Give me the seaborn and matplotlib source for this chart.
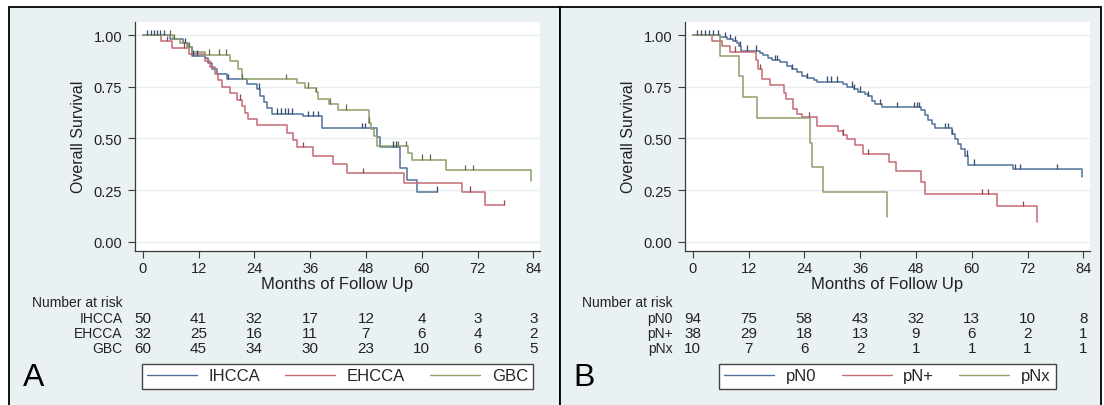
import numpy as np
import pandas as pd
import matplotlib
matplotlib.use("Agg")
import matplotlib.pyplot as plt
import matplotlib.transforms as mtransforms
from matplotlib.lines import Line2D
from matplotlib.patches import Rectangle
import seaborn as sns

# ---- data ----
risk_months = [0, 12, 24, 36, 48, 60, 72, 84]

# panel A
ihcca_t = [0, 5.9, 8.6, 9.8, 10.6, 13.4, 14.1, 14.8, 15.9, 18.1, 22.4, 24.5, 25.2, 26.0,
           26.7, 27.7, 34.5, 38.5, 50.4, 51.0, 55.4, 56.8, 58.9, 63.2]
ihcca_s = [1.0, 0.98, 0.96, 0.94, 0.90, 0.89, 0.865, 0.835, 0.81, 0.787, 0.763, 0.74, 0.706,
           0.674, 0.645, 0.62, 0.607, 0.548, 0.505, 0.46, 0.355, 0.30, 0.242, 0.242]
ihcca_cens = [1.0, 1.7, 2.4, 3.1, 3.8, 4.5, 9.2, 10.9, 11.6, 18.4, 25.0, 28.8, 29.7, 30.6,
              31.3, 32.0, 35.6, 36.6, 37.6, 47.1, 47.8, 53.8, 54.4, 63.2]

ehcca_t = [0, 3.9, 6.2, 10.0, 13.4, 14.5, 15.6, 16.1, 17.0, 18.8, 20.2, 21.3, 22.0, 22.7,
           24.5, 31.0, 32.4, 33.1, 36.7, 41.0, 43.9, 56.1, 68.6, 73.6, 77.6]
ehcca_s = [1.0, 0.969, 0.938, 0.906, 0.875, 0.844, 0.813, 0.781, 0.75, 0.719, 0.688, 0.656,
           0.625, 0.594, 0.5625, 0.527, 0.49, 0.457, 0.416, 0.376, 0.331, 0.284, 0.242, 0.177, 0.177]
ehcca_cens = [5.2, 8.8, 21.0, 34.4, 47.3, 70.4, 77.6]

gbc_t = [0, 6.6, 8.0, 9.5, 10.5, 13.4, 18.8, 20.5, 21.3, 33.1, 35.0, 37.3, 37.8, 40.0, 42.1,
         48.7, 49.2, 49.8, 50.4, 57.1, 58.0, 65.2, 83.5]
gbc_s = [1.0, 0.98, 0.96, 0.94, 0.92, 0.905, 0.875, 0.835, 0.787, 0.77, 0.746, 0.722, 0.69,
         0.668, 0.639, 0.575, 0.543, 0.51, 0.462, 0.43, 0.397, 0.347, 0.295]
gbc_cens = [5.9, 6.8, 9.9, 14.2, 16.5, 18.0, 21.3, 30.8, 35.5, 37.3, 40.2, 43.7, 48.7, 55.0,
            56.6, 60.0, 61.8, 69.2, 71.1]

ihcca_risk = [50, 41, 32, 17, 12, 4, 3, 3]
ehcca_risk = [32, 25, 16, 11, 7, 6, 4, 2]
gbc_risk = [60, 45, 34, 30, 23, 10, 6, 5]

# panel B
pn0_t = [0, 5.9, 7.3, 8.7, 9.5, 10.0, 10.3, 14.5, 15.2, 16.1, 17.0, 18.8, 20.2, 21.3, 22.4,
         23.4, 24.5, 26.0, 26.8, 32.4, 33.1, 34.6, 35.6, 37.1, 37.8, 38.5, 39.2, 40.6, 49.2,
         50.0, 50.7, 51.4, 52.1, 55.7, 56.4, 57.1, 57.8, 58.6, 59.1, 59.3, 68.8, 83.7]
pn0_s = [1.0, 0.99, 0.98, 0.97, 0.96, 0.945, 0.924, 0.913, 0.902, 0.89, 0.879, 0.868, 0.85,
         0.835, 0.82, 0.803, 0.79, 0.782, 0.775, 0.762, 0.75, 0.739, 0.726, 0.715, 0.703,
         0.682, 0.666, 0.65, 0.638, 0.614, 0.59, 0.569, 0.548, 0.521, 0.497, 0.473, 0.448,
         0.416, 0.392, 0.373, 0.35, 0.313]
pn0_cens = [0.9, 1.7, 2.6, 3.6, 4.4, 5.5, 7.0, 8.0, 9.1, 10.2, 11.6, 13.6, 17.7, 18.2, 21.3,
            24.5, 28.8, 29.7, 31.0, 34.2, 34.7, 36.0, 37.8, 40.3, 43.9, 47.5, 48.2, 48.7,
            54.3, 54.8, 55.7, 58.9, 60.4, 69.3, 70.4, 78.3]

pnp_t = [0, 4.1, 6.2, 8.0, 13.6, 14.1, 14.8, 16.6, 19.6, 20.1, 21.6, 22.4, 23.4, 26.8,
         31.3, 32.3, 33.1, 34.8, 36.7, 42.3, 43.8, 49.0, 50.0, 65.5, 74.0]
pnp_s = [1.0, 0.973, 0.947, 0.92, 0.88, 0.835, 0.787, 0.758, 0.72, 0.69, 0.642, 0.618, 0.602,
         0.561, 0.537, 0.517, 0.497, 0.47, 0.424, 0.384, 0.343, 0.287, 0.231, 0.171, 0.094]
pnp_cens = [9.0, 14.5, 25.0, 32.3, 37.8, 62.2, 63.6, 71.1]

pnx_t = [0, 5.9, 10.0, 10.8, 13.8, 25.2, 25.7, 28.1, 41.7]
pnx_s = [1.0, 0.9, 0.8, 0.7, 0.6, 0.48, 0.36, 0.24, 0.12]
pnx_cens = []

pn0_risk = [94, 75, 58, 43, 32, 13, 10, 8]
pnp_risk = [38, 29, 18, 13, 9, 6, 2, 1]
pnx_risk = [10, 7, 6, 2, 1, 1, 1, 1]

# ---- style ----
blue = "#52729a"
red = "#c86a74"
green = "#909e68"
panel_bg = "#eaf1f3"
grid_col = "#e6eef1"
axis_col = "#3a3a3a"

sns.set_theme(style="white")
plt.rcParams["font.family"] = ["Liberation Sans", "DejaVu Sans"]

W, H = 1104, 406
fig = plt.figure(figsize=(W / 100, H / 100), dpi=100)
fig.patch.set_facecolor("white")


def fx(px):
    return px / W


def fy(py):
    return 1 - py / H


# panel frames (behind the axes)
fig.patches.append(Rectangle((fx(9), fy(420)), fx(560) - fx(9), fy(8) - fy(420),
                             transform=fig.transFigure, facecolor=panel_bg,
                             edgecolor="black", lw=1.3, zorder=-10))
fig.patches.append(Rectangle((fx(560), fy(420)), fx(1101) - fx(560), fy(8) - fy(420),
                             transform=fig.transFigure, facecolor=panel_bg,
                             edgecolor="black", lw=1.3, zorder=-10))


def km_frame(groups):
    rows = []
    for name, t, s in groups:
        rows.append(pd.DataFrame({"month": t, "surv": s, "group": name}))
    return pd.concat(rows, ignore_index=True)


def draw_panel(left_px, groups, censors, risks, letter, letter_x):
    ax = fig.add_axes([fx(left_px), fy(251.8), fx(405.5), fy(22.6) - fy(251.8)])
    ax.set_facecolor("white")
    names = [g[0] for g in groups]
    palette = dict(zip(names, [blue, red, green]))
    df = km_frame(groups)
    sns.lineplot(data=df, x="month", y="surv", hue="group", palette=palette,
                 estimator=None, sort=False, drawstyle="steps-post", lw=1.1,
                 legend=False, ax=ax, zorder=3)
    for (name, t, s), ct in zip(groups, censors):
        if not ct:
            continue
        t = np.asarray(t)
        s = np.asarray(s)
        idx = np.searchsorted(t, ct, side="right") - 1
        cy = s[idx]
        ax.vlines(ct, cy, cy + 0.026, colors=palette[name], lw=1.0, zorder=4)
        ax.vlines(ct, cy, cy + 0.026, colors="black", lw=0.6, alpha=0.35, zorder=4)

    ax.set_xlim(-1.7, 85.5)
    ax.set_ylim(-0.044, 1.065)
    ax.set_xticks(risk_months)
    ax.set_yticks([0, 0.25, 0.5, 0.75, 1.0])
    ax.set_yticklabels(["0.00", "0.25", "0.50", "0.75", "1.00"])
    ax.yaxis.grid(True, color=grid_col, lw=1.0)
    ax.set_axisbelow(True)
    for side in ["top", "right"]:
        ax.spines[side].set_visible(False)
    for side in ["left", "bottom"]:
        ax.spines[side].set_color(axis_col)
        ax.spines[side].set_linewidth(0.9)
    ax.tick_params(axis="both", direction="out", length=5, width=0.8, color=axis_col,
                   labelsize=10.5, labelcolor="#222222", left=True, bottom=True)
    ax.tick_params(axis="y", pad=4)
    ax.tick_params(axis="x", pad=2)
    ax.set_xlabel("")
    ax.set_ylabel("")

    cx = (left_px + left_px + 405.5) / 2
    fig.text(fx(left_px - 56), fy(137), "Overall Survival", rotation=90, ha="center",
             va="center", fontsize=11.5, color="#222222")
    fig.text(fx(cx), fy(285), "Months of Follow Up", ha="center", va="center",
             fontsize=12, color="#222222")

    # number at risk table
    trans = mtransforms.blended_transform_factory(ax.transData, fig.transFigure)
    lab_x = fx(left_px - 12)
    fig.text(lab_x, fy(303), "Number at risk", ha="right", va="center", fontsize=10,
             color="#222222")
    for i, (name, counts) in enumerate(zip(names, risks)):
        yy = fy(319 + 15 * i)
        fig.text(lab_x, yy, name, ha="right", va="center", fontsize=10, color="#222222")
        for m, c in zip(risk_months, counts):
            ax.text(m, yy, str(c), transform=trans, ha="center", va="center",
                    fontsize=11, color="#222222", clip_on=False)

    handles = [Line2D([], [], color=palette[n], lw=1.0) for n in names]
    leg = ax.legend(handles, names, loc="center", bbox_to_anchor=(fx(cx), fy(377)),
                    bbox_transform=fig.transFigure, ncol=3, frameon=True, fancybox=False,
                    edgecolor="#444444", facecolor="white", fontsize=12,
                    handlelength=3.0, handletextpad=0.7, columnspacing=1.5,
                    borderpad=0.3)
    leg.get_frame().set_linewidth(1.0)
    leg.get_frame().set_alpha(1.0)
    leg.set_zorder(10)
    fig.text(fx(letter_x), fy(378), letter, ha="center", va="center", fontsize=23,
             color="black")
    return ax


draw_panel(134.8,
           [("IHCCA", ihcca_t, ihcca_s), ("EHCCA", ehcca_t, ehcca_s), ("GBC", gbc_t, gbc_s)],
           [ihcca_cens, ehcca_cens, gbc_cens],
           [ihcca_risk, ehcca_risk, gbc_risk], "A", 34)

draw_panel(684.8,
           [("pN0", pn0_t, pn0_s), ("pN+", pnp_t, pnp_s), ("pNx", pnx_t, pnx_s)],
           [pn0_cens, pnp_cens, pnx_cens],
           [pn0_risk, pnp_risk, pnx_risk], "B", 584)

fig.savefig("out.png", dpi=100, facecolor=fig.get_facecolor())
